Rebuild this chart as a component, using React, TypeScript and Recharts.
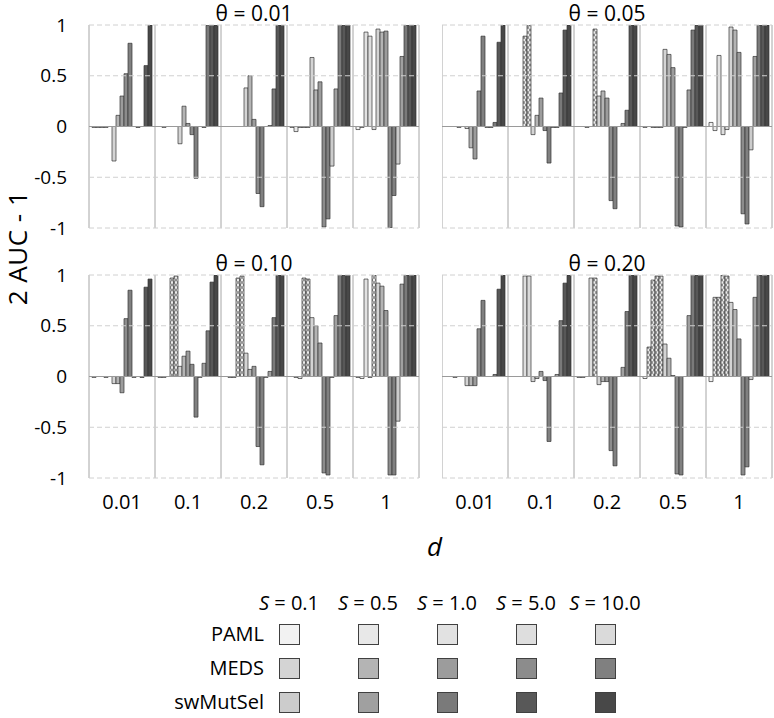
import React from 'react';
import { BarChart, Bar, XAxis, YAxis, CartesianGrid, ReferenceLine, Cell } from 'recharts';

const dLabels = ['0.01', '0.1', '0.2', '0.5', '1'];
const sLabels = ['0.1', '0.5', '1.0', '5.0', '10.0'];
const methods = ['PAML', 'MEDS', 'swMutSel'];
const yTicks = [-1, -0.5, 0, 0.5, 1];

const pamlColors = ['#f2f2f2', '#e8e8e8', '#e2e2e2', '#dedede', '#dadada'];
const medsColors = ['#d4d4d4', '#b4b4b4', '#9c9c9c', '#8c8c8c', '#808080'];
const swColors = ['#cccccc', '#a0a0a0', '#7a7a7a', '#585858', '#484848'];

// rows: d = 0.01, 0.1, 0.2, 0.5, 1 ; columns: S = 0.1, 0.5, 1.0, 5.0, 10.0

// theta = 0.01
const paml001 = [[-0.01, -0.01, -0.01, -0.01, 0], [0, -0.01, 0, 0, 0], [0, 0, 0, 0, 0], [-0.01, -0.05, -0.01, -0.01, -0.01], [-0.03, -0.01, 0.93, 0.89, -0.03]];
const meds001 = [[-0.34, 0.11, 0.3, 0.52, 0.82], [-0.17, 0.2, 0.03, -0.08, -0.51], [0.38, 0.5, 0.07, -0.66, -0.79], [0.68, 0.36, 0.44, -0.99, -0.91], [0.96, 0.93, 0.94, -1.0, -0.68]];
const sw001 = [[0, -0.01, 0, 0.6, 1], [0, -0.01, 1, 1, 1], [0, 0.01, 0.37, 1, 1], [-0.39, 0.37, 1, 1, 1], [-0.37, 0.69, 1, 1, 1]];
const hatch001 = [[0, 0, 0, 0, 0], [0, 0, 0, 0, 0], [0, 0, 0, 0, 0], [0, 0, 0, 0, 0], [0, 0, 0, 0, 0]];

// theta = 0.05
const paml005 = [[0, 0, 0, -0.01, 0], [0, 0, 0, 0.89, 1.0], [0, 0, -0.01, 0, 0.96], [-0.01, 0, -0.01, -0.01, -0.01], [0.04, -0.04, 0.7, -0.08, -0.03]];
const meds005 = [[-0.02, -0.21, -0.32, 0.35, 0.89], [-0.08, 0.11, 0.28, -0.04, -0.36], [0.3, 0.35, 0.28, -0.73, -0.81], [0.76, 0.71, 0.58, -0.98, -0.99], [0.98, 0.95, 0.73, -0.86, -0.96]];
const sw005 = [[-0.01, -0.01, 0.04, 0.83, 1], [-0.01, -0.01, 0.33, 0.95, 1], [0, 0.03, 0.16, 1, 1], [-0.01, 0.36, 0.95, 1, 1], [-0.23, 0.69, 1, 1, 1]];
const hatch005 = [[0, 0, 0, 0, 0], [0, 0, 0, 1, 1], [0, 0, 0, 0, 1], [0, 0, 0, 0, 0], [0, 0, 0, 0, 0]];

// theta = 0.10
const paml010 = [[-0.01, 0, 0, -0.01, 0], [-0.01, -0.01, 0, 0.97, 0.99], [0, -0.01, -0.01, 0.97, 0.99], [0, -0.01, -0.02, 0.97, 0.96], [-0.01, -0.02, 0.96, -0.01, 1.0]];
const meds010 = [[-0.07, -0.07, -0.16, 0.57, 0.85], [0.1, 0.2, 0.25, 0.12, -0.4], [0.23, 0.07, 0.1, -0.69, -0.87], [0.58, 0.5, 0.33, -0.95, -0.97], [0.92, 0.89, 0.65, -0.97, -0.97]];
const sw010 = [[-0.01, 0, -0.01, 0.88, 0.96], [-0.01, 0.13, 0.45, 0.93, 1], [-0.01, 0.05, 0.58, 1, 1], [-0.01, 0.6, 1, 1, 1], [-0.44, 0.91, 1, 1, 1]];
const hatch010 = [[0, 0, 0, 0, 0], [0, 0, 0, 1, 1], [0, 0, 0, 1, 1], [0, 0, 0, 1, 1], [0, 0, 0, 0, 1]];

// theta = 0.20
const paml020 = [[0, 0, -0.01, 0, 0], [0, 0, 0, 0.99, 0.99], [-0.01, -0.01, 0, 0.97, 0.97], [-0.02, 0.29, 0.95, 0.99, 0.99], [-0.05, 0.78, 0.78, 1.0, 0.99]];
const meds020 = [[-0.09, -0.09, -0.09, 0.47, 0.75], [-0.05, -0.02, 0.05, -0.04, -0.64], [-0.08, -0.05, -0.05, -0.73, -0.88], [0.32, 0.18, 0.01, -0.96, -0.97], [0.73, 0.66, 0.37, -0.97, -0.89]];
const sw020 = [[0, 0, 0.02, 0.86, 1], [0, 0.02, 0.55, 0.92, 1], [0, 0.09, 0.64, 1, 1], [0, 0.6, 1, 1, 1], [-0.03, 0.78, 1, 1, 1]];
const hatch020 = [[0, 0, 0, 0, 0], [0, 0, 0, 0, 0], [0, 0, 0, 0, 1], [0, 1, 1, 1, 1], [0, 1, 1, 1, 1]];

const FONT = '"Open Sans", "DejaVu Sans", sans-serif';
const PLOT_W = 330;
const PLOT_H = 203;

interface PanelProps {
    id: string;
    theta: string;
    paml: number[][];
    meds: number[][];
    sw: number[][];
    hatch: number[][];
    showY: boolean;
    showX: boolean;
    left: number;
    top: number;
}

const Panel = ({ id, theta, paml, meds, sw, hatch, showY, showX, left, top }: PanelProps) => {
    const data = dLabels.map((d, i) => {
        const row: { [key: string]: any } = { d };
        sLabels.forEach((_, j) => {
            row[`PAML_${j}`] = paml[i][j];
            row[`MEDS_${j}`] = meds[i][j];
            row[`swMutSel_${j}`] = sw[i][j];
        });
        return row;
    });

    const yW = showY ? 89 : 0;
    const xH = showX ? 40 : 0;
    const width = yW + PLOT_W + 2;
    const height = 25 + PLOT_H + xH + (showX ? 0 : 12);

    const series = [
        { m: 'PAML', colors: pamlColors },
        { m: 'MEDS', colors: medsColors },
        { m: 'swMutSel', colors: swColors },
    ];

    return (
        <div style={{ position: 'absolute', left, top, width, height }}>
            <BarChart
                width={width}
                height={height}
                data={data}
                margin={{ top: 25, right: 2, bottom: showX ? 0 : 12, left: 0 }}
                barGap={0}
                barCategoryGap={3}
            >
                <defs>
                    <pattern id={`${id}-hatch`} width="4" height="5" patternUnits="userSpaceOnUse">
                        <rect width="4" height="5" fill="#ececec" />
                        <path d="M0,0 L4,5 M4,0 L0,5" stroke="#555" strokeWidth="0.7" />
                    </pattern>
                </defs>
                <CartesianGrid
                    horizontal={false}
                    stroke="#a6a6a6"
                    verticalCoordinatesGenerator={({ offset }: any) =>
                        dLabels.concat(['']).map((_, i) => offset.left + (i * offset.width) / dLabels.length)
                    }
                />
                <XAxis
                    dataKey="d"
                    hide={!showX}
                    height={xH}
                    axisLine={false}
                    tickLine={false}
                    tickMargin={11}
                    tick={{ fill: '#000', fontSize: 20, fontFamily: FONT }}
                    interval={0}
                />
                <YAxis
                    hide={!showY}
                    width={yW}
                    domain={[-1, 1]}
                    ticks={yTicks}
                    interval={0}
                    allowDataOverflow
                    axisLine={false}
                    tickLine={false}
                    tickMargin={16}
                    tick={{ fill: '#000', fontSize: 19, fontFamily: FONT }}
                />
                {yTicks.filter(t => t !== 0).map(t => (
                    <ReferenceLine key={t} y={t} stroke="#d0d0d0" strokeDasharray="5 3" />
                ))}
                <ReferenceLine y={0} stroke="#9a9a9a" />
                {series.map(({ m, colors }) =>
                    sLabels.map((_, j) => (
                        <Bar
                            key={`${m}_${j}`}
                            dataKey={`${m}_${j}`}
                            fill={colors[j]}
                            stroke="#333"
                            strokeWidth={0.7}
                            isAnimationActive={false}
                        >
                            {m === 'PAML' &&
                                data.map((_, i) => (
                                    <Cell
                                        key={i}
                                        fill={hatch[i][j] ? `url(#${id}-hatch)` : colors[j]}
                                    />
                                ))}
                        </Bar>
                    ))
                )}
            </BarChart>
            <div
                style={{
                    position: 'absolute',
                    left: yW,
                    width: PLOT_W,
                    top: 1,
                    height: 24,
                    textAlign: 'center',
                    fontSize: 21,
                    lineHeight: '24px',
                    fontFamily: FONT,
                    whiteSpace: 'nowrap',
                }}
            >
                θ = {theta}
            </div>
        </div>
    );
};

const Legend = () => {
    const rowColors = [pamlColors, medsColors, swColors];
    return (
        <div style={{ position: 'absolute', left: 0, top: 590, width: 774, fontFamily: FONT, fontSize: 20 }}>
            {sLabels.map((s, j) => (
                <div
                    key={s}
                    style={{ position: 'absolute', left: 289 + 79 * j - 45, width: 90, top: 0, textAlign: 'center', lineHeight: '26px', whiteSpace: 'nowrap' }}
                >
                    <i>S</i> = {s}
                </div>
            ))}
            {methods.map((m, r) => (
                <React.Fragment key={m}>
                    <div
                        style={{
                            position: 'absolute',
                            right: 774 - 264,
                            top: 34 + 34 * r - 3,
                            lineHeight: '26px',
                            textAlign: 'right',
                        }}
                    >
                        {m}
                    </div>
                    {sLabels.map((s, j) => (
                        <div
                            key={s}
                            style={{
                                position: 'absolute',
                                left: 279 + 79 * j,
                                top: 34 + 34 * r,
                                width: 19,
                                height: 19,
                                background: rowColors[r][j],
                                border: '1px solid #404040',
                            }}
                        />
                    ))}
                </React.Fragment>
            ))}
        </div>
    );
};

export default function App() {
    return (
        <div style={{ position: 'absolute', left: 0, top: 0, width: 774, height: 718, background: '#fff', fontFamily: FONT }}>
            <Panel id="p1" theta="0.01" paml={paml001} meds={meds001} sw={sw001} hatch={hatch001} showY showX={false} left={0} top={0} />
            <Panel id="p2" theta="0.05" paml={paml005} meds={meds005} sw={sw005} hatch={hatch005} showY={false} showX={false} left={442} top={0} />
            <Panel id="p3" theta="0.10" paml={paml010} meds={meds010} sw={sw010} hatch={hatch010} showY showX left={0} top={250} />
            <Panel id="p4" theta="0.20" paml={paml020} meds={meds020} sw={sw020} hatch={hatch020} showY={false} showX left={442} top={250} />
            <div
                style={{
                    position: 'absolute',
                    left: 17,
                    top: 248,
                    transform: 'translate(-50%, -50%) rotate(-90deg)',
                    fontSize: 26,
                    letterSpacing: 0.5,
                    whiteSpace: 'nowrap',
                }}
            >
                2 AUC - 1
            </div>
            <div style={{ position: 'absolute', left: 427, top: 528, fontSize: 26, fontStyle: 'italic' }}>d</div>
            <Legend />
        </div>
    );
}
